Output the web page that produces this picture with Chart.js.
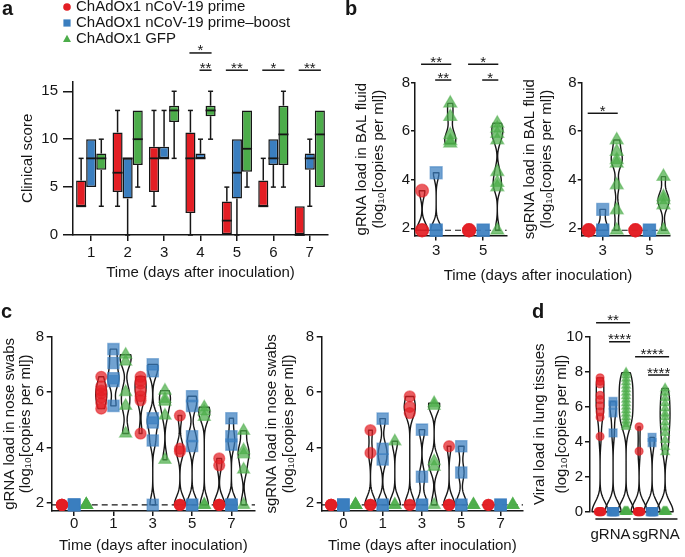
<!DOCTYPE html>
<html><head><meta charset="utf-8"><title>ChAdOx1 figure</title>
<script src="https://cdn.jsdelivr.net/npm/chart.js@4/dist/chart.umd.min.js"></script>
<style>
html,body{margin:0;padding:0;background:#fff}
#fig{position:relative;width:685px;height:557px;overflow:hidden;background:#fff}
#fig canvas{position:absolute;left:0;top:0}
</style></head><body>
<div id="fig">
<canvas id="chA" width="685" height="557"></canvas>
<canvas id="chB1" width="685" height="557"></canvas>
<canvas id="chB2" width="685" height="557"></canvas>
<canvas id="chC1" width="685" height="557"></canvas>
<canvas id="chC2" width="685" height="557"></canvas>
<canvas id="chD" width="685" height="557"></canvas>
</div>
<script>
// ================= DATA =================
const LOD = 1.92;
const SERIES_NAMES = ['ChAdOx1 nCoV-19 prime', 'ChAdOx1 nCoV-19 prime\u2013boost', 'ChAdOx1 GFP'];

// Panel a: clinical score box plots, each entry [min, q1, median, q3, max]
const aDays = ['1', '2', '3', '4', '5', '6', '7'];
const aYTicks = [0, 5, 10, 15];
const aPrimeBox = [[3,3,3,5.7,8],[3,4.5,6.5,10.7,13],[3,4.5,8,9.2,13],[0,2.3,8,10.7,13],[0,0,1.5,3.5,5],[3,3,3,5.7,8],[0,0,0,3,3]];
const aBoostBox = [[5,5,8,10,10],[0,3.8,8,8,8],[8,8,8,9.2,13],[8,8,8,8.5,10],[0,3.8,6.5,10,10],[5,7.3,8,10,10],[3,6.8,8,8.5,10]];
const aGfpBox = [[3,6.8,8,8.5,10],[5,7.3,10,13,13],[8,11.8,13,13.5,15],[10,12.4,13,13.5,15],[5,6.6,9,13,13],[5,7.3,10.5,13.5,15],[5,5,10.5,13,13]];
const aSig = [
  {cat:3, from:0, to:2, y:19.0, label:'*'},
  {cat:3, from:1, to:2, y:17.2, label:'**'},
  {cat:4, from:0, to:2, y:17.2, label:'**'},
  {cat:5, from:0, to:2, y:17.2, label:'*'},
  {cat:6, from:0, to:2, y:17.2, label:'**'}
];

// Panel b: BAL fluid (log10 copies per ml)
const bDays = ['3', '5'];
const logTicks = [2, 4, 6, 8];
const bGrnaPrime = [[3.55, LOD, LOD], [LOD, LOD, LOD]];
const bGrnaBoost = [[4.29, LOD, LOD], [LOD, LOD]];
const bGrnaGfp   = [[7.15, 6.6, 5.85, 5.6, 5.5], [6.33, 6.12, 5.9, 5.64, 4.33, 3.88, 3.7, LOD]];
const bSgPrime   = [[LOD, LOD, LOD], [LOD, LOD, LOD]];
const bSgBoost   = [[2.78, LOD, LOD], [LOD, LOD]];
const bSgGfp     = [[5.64, 5.16, 4.82, 4.68, 3.78, 2.75, LOD], [4.13, 3.3, 3.17, 2.96, LOD]];
const bGrnaSig = [
  {cat:0, from:0, to:2, y:8.76, label:'**'},
  {cat:0, from:1, to:2, y:8.11, label:'**'},
  {cat:1, from:0, to:2, y:8.76, label:'*'},
  {cat:1, from:1, to:2, y:8.11, label:'*'}
];
const bSgSig = [{cat:0, from:0, to:2, y:6.74, label:'*'}];

// Panel c: nose swabs
const cDays = ['0', '1', '3', '5', '7'];
const cGrnaPrime = [[LOD,LOD,LOD,LOD,LOD,LOD], [6.55,6.2,6.05,5.95,5.8,5.6,5.4], [6.55,6.4,6.3,6.05,5.85,5.7,4.5], [5.15,3.95,3.85,LOD,LOD,LOD], [3.6,3.35,LOD,LOD,LOD,LOD]];
const cGrnaBoost = [[LOD,LOD,LOD,LOD,LOD,LOD], [7.55,7.05,6.5,6.4,5.5], [7.0,6.75,5.05,4.9,4.25,LOD], [5.85,5.5,4.4,4.05,LOD,LOD], [5.05,4.4,4.1,LOD,LOD,LOD]];
const cGrnaGfp   = [[LOD,LOD,LOD,LOD,LOD,LOD], [7.35,7.1,6.0,5.5,4.5], [6.05,5.75,5.65,5.15,3.55], [5.45,5.3,5.1,LOD,LOD], [4.6,3.9,3.75,3.2,LOD]];
const cSgPrime   = [[LOD,LOD,LOD,LOD,LOD], [4.62,3.8,LOD,LOD,LOD], [5.84,5.46,5.24,LOD,LOD], [4.04,LOD,LOD,LOD], [LOD,LOD,LOD]];
const cSgBoost   = [[LOD,LOD,LOD,LOD,LOD], [5.04,3.95,3.56,LOD,LOD], [4.64,2.94,LOD,LOD], [4.04,3.09,LOD,LOD], [LOD,LOD,LOD]];
const cSgGfp     = [[LOD,LOD,LOD,LOD,LOD], [4.22,LOD,LOD], [5.6,5.5,3.5,3.3,LOD], [LOD,LOD,LOD], [LOD,LOD,LOD]];

// Panel d: lung tissues (gRNA block, sgRNA block)
const dGroups = ['gRNA', 'sgRNA'];
const dYTicks = [0, 2, 4, 6, 8, 10];
const dPrime = [[7.65,7.45,7.3,6.65,6.4,6.05,5.7,5.4,4.3,0,0,0,0,0,0,0,0], [4.85,3.45,0,0,0,0,0,0,0,0]];
const dBoost = [[6.3,6.1,5.65,4.5,0,0,0,0,0,0,0], [4.25,3.95,0,0,0,0,0,0,0]];
const dGfp   = [[7.95,7.8,7.6,7.4,7.2,7.0,6.8,6.6,6.4,6.2,6.0,5.8,5.6,5.4,5.2,5.0,4.85,0,0,0,0,0,0,0,0], [7.05,6.8,6.5,6.2,5.9,5.6,5.4,5.1,4.8,4.5,4.1,3.7,3.4,0,0,0,0,0,0,0,0]];
const dSig = [
  {cat:0, from:0, to:2, y:10.8, label:'**'},
  {cat:0, from:1, to:2, y:9.71, label:'****'},
  {cat:1, from:0, to:2, y:8.86, label:'****'},
  {cat:1, from:1, to:2, y:7.81, label:'****'}
];

// ================= STYLE =================
const FAMILY = "'Liberation Sans', Arial, Helvetica, sans-serif";
const INK = '#161616';
const SERIES_COLORS = ['#e31e24', '#3a7ebf', '#4cad4a'];
const SERIES_STYLES = ['circle', 'rect', 'triangle'];
const LOG_TITLE2 = '(log\u2081\u2080[copies per ml])';
const W = 685, H = 557;

Chart.defaults.font.family = FAMILY;
Chart.defaults.color = INK;
Chart.defaults.animation = false;

function rgba(hex, a) {
  const n = parseInt(hex.slice(1), 16);
  return `rgba(${n >> 16},${(n >> 8) & 255},${n & 255},${a})`;
}
function text(ctx, s, x, y, o = {}) {
  ctx.save();
  ctx.font = `${o.weight || 'normal'} ${o.size || 15}px ${FAMILY}`;
  ctx.fillStyle = INK;
  ctx.textAlign = o.align || 'center';
  ctx.textBaseline = o.baseline || 'alphabetic';
  ctx.fillText(s, x, y);
  ctx.restore();
}
function seg(ctx, x1, y1, x2, y2) {
  ctx.beginPath(); ctx.moveTo(x1, y1); ctx.lineTo(x2, y2); ctx.stroke();
}
function sigBars(ctx, list, xPix, yScale, ext) {
  ctx.save(); ctx.strokeStyle = INK; ctx.lineWidth = 1.5;
  list.forEach(s => {
    const x1 = xPix(s.cat, s.from) - ext, x2 = xPix(s.cat, s.to) + ext, y = yScale.getPixelForValue(s.y);
    seg(ctx, x1, y, x2, y);
    text(ctx, s.label, (x1 + x2) / 2, y + 2.5);
  });
  ctx.restore();
}
function marker(ctx, style, x, y, r, color) {
  ctx.save(); ctx.fillStyle = color; ctx.beginPath();
  if (style === 'circle') ctx.arc(x, y, r, 0, Math.PI * 2);
  else if (style === 'rect') ctx.rect(x - r, y - r, 2 * r, 2 * r);
  else { ctx.moveTo(x, y - r * 1.15); ctx.lineTo(x + r * 1.1, y + r * 0.85); ctx.lineTo(x - r * 1.1, y + r * 0.85); ctx.closePath(); }
  ctx.fill(); ctx.restore();
}
function drawViolin(ctx, xp, yScale, vals, bw, halfW) {
  const lo = Math.min(...vals), hi = Math.max(...vals);
  if (hi - lo < 1e-6) return;
  const N = 90, ys = [], ds = [];
  for (let i = 0; i <= N; i++) {
    const y = lo + (hi - lo) * i / N; let d = 0;
    for (const v of vals) d += Math.exp(-0.5 * ((y - v) / bw) ** 2);
    ys.push(y); ds.push(d);
  }
  const m = Math.max(...ds);
  ctx.beginPath();
  for (let i = 0; i <= N; i++) {
    const px = xp - halfW * ds[i] / m, py = yScale.getPixelForValue(ys[i]);
    i ? ctx.lineTo(px, py) : ctx.moveTo(px, py);
  }
  for (let i = N; i >= 0; i--) ctx.lineTo(xp + halfW * ds[i] / m, yScale.getPixelForValue(ys[i]));
  ctx.closePath(); ctx.stroke();
}

function yAxis(o) {
  return {
    type: 'linear', min: o.min, max: o.max,
    afterBuildTicks: s => { s.ticks = o.ticks.map(v => ({value: v})); },
    afterFit: s => { s.width = o.width; },
    grid: {display: true, drawOnChartArea: false, drawTicks: true, tickLength: o.tl, color: INK, lineWidth: 1.5},
    border: {display: true, color: INK, width: 1.5},
    ticks: {font: {family: FAMILY, size: 15, lineHeight: 1}, color: INK, padding: o.pad},
    title: {display: true, text: o.title, color: INK, font: {family: FAMILY, size: 15, lineHeight: o.lh}, padding: {top: o.tp, bottom: 0}}
  };
}
function xAxisLinear(o) {
  return {
    type: 'linear', min: o.min, max: o.max,
    afterBuildTicks: s => { s.ticks = o.positions.map(v => ({value: v})); },
    afterFit: s => { s.height = o.height; },
    grid: {display: o.grid !== false, drawOnChartArea: false, drawTicks: true, tickLength: o.tl, color: INK, lineWidth: 1.5},
    border: {display: o.border !== false, color: INK, width: 1.5},
    ticks: {font: {family: FAMILY, size: 15, lineHeight: 1}, color: INK, padding: o.pad, autoSkip: false, maxRotation: 0,
            callback: (v, i) => o.labels[i]},
    title: o.title ? {display: true, text: o.title, color: INK, font: {family: FAMILY, size: 15, lineHeight: 1.2}, padding: {top: 0, bottom: o.titlePad}} : {display: false}
  };
}
function placePoints(vals, x0, spread) {
  const counts = {}, seen = {};
  vals.forEach(v => { counts[v] = (counts[v] || 0) + 1; });
  return vals.map(v => {
    const n = counts[v], k = seen[v] || 0; seen[v] = k + 1;
    const dx = spread && n > 1 ? (k / (n - 1) - 0.5) * spread : 0;
    return {x: x0 + dx, y: v};
  });
}
function pointSets(groups, xOf, radii, spread) {
  return groups.map((cats, g) => ({
    data: cats.flatMap((vals, c) => placePoints(vals, xOf(c, g), spread)),
    pointStyle: SERIES_STYLES[g], pointRadius: radii[g],
    backgroundColor: rgba(SERIES_COLORS[g], 0.72), borderColor: rgba(SERIES_COLORS[g], 0.5), borderWidth: 1.3,
    clip: false
  }));
}
function scatterChart(id, o) {
  const xOf = o.xOf;
  return new Chart(document.getElementById(id), {
    type: 'scatter',
    data: {datasets: pointSets(o.groups, xOf, o.radii, o.spread)},
    options: {
      responsive: false, devicePixelRatio: 1, animation: false,
      layout: {padding: o.padding},
      plugins: {legend: {display: false}, tooltip: {enabled: false}},
      scales: {x: o.x, y: o.y}
    },
    plugins: [{
      id: 'extras-' + id,
      beforeDatasetsDraw(chart) {
        const ctx = chart.ctx, ys = chart.scales.y, xs = chart.scales.x, ca = chart.chartArea;
        ctx.save(); ctx.strokeStyle = INK;
        if (o.lod) {
          ctx.lineWidth = 1.2; ctx.setLineDash([6, 4]);
          const y = ys.getPixelForValue(LOD); seg(ctx, ca.left, y, ca.right, y);
          ctx.setLineDash([]);
        }
        ctx.lineWidth = 1.4; ctx.lineJoin = 'round';
        o.groups.forEach((cats, g) => cats.forEach((vals, c) => drawViolin(ctx, xs.getPixelForValue(xOf(c, g)), ys, vals, o.bw, o.halfW)));
        ctx.restore();
      },
      afterDraw(chart) {
        const ctx = chart.ctx, xs = chart.scales.x, ys = chart.scales.y;
        if (o.sig) sigBars(ctx, o.sig, (c, g) => xs.getPixelForValue(xOf(c, g)), ys, o.sigExt);
        if (o.after) o.after(chart);
      }
    }]
  });
}

// ================= PANEL A =================
const aBoxSets = [aPrimeBox, aBoostBox, aGfpBox];
new Chart(document.getElementById('chA'), {
  type: 'bar',
  data: {
    labels: aDays,
    datasets: aBoxSets.map((set, g) => ({
      data: set.map(b => [b[1], b[3]]),
      backgroundColor: SERIES_COLORS[g], borderColor: INK, borderWidth: 1.5, borderSkipped: false,
      barPercentage: 1, categoryPercentage: 0.83
    }))
  },
  options: {
    responsive: false, devicePixelRatio: 1, animation: false,
    layout: {padding: {left: 0, top: 81.7, right: W - 328, bottom: H - 235 - 50}},
    plugins: {legend: {display: false}, tooltip: {enabled: false}},
    scales: {
      x: {
        afterFit: s => { s.height = 50; },
        grid: {display: true, offset: false, drawOnChartArea: false, drawTicks: true, tickLength: 6, color: INK, lineWidth: 1.5},
        border: {display: true, color: INK, width: 1.5},
        ticks: {font: {family: FAMILY, size: 15, lineHeight: 1}, color: INK, padding: 4.8},
        title: {display: true, text: 'Time (days after inoculation)', color: INK, font: {family: FAMILY, size: 15, lineHeight: 1.2}, padding: {top: 0, bottom: 2.7}}
      },
      y: yAxis({min: 0, max: 16, ticks: aYTicks, width: 73, tl: 10, pad: 5, title: 'Clinical score', lh: 1.2, tp: 19})
    }
  },
  plugins: [{
    id: 'boxwhisk',
    afterDatasetsDraw(chart) {
      const ctx = chart.ctx, y = chart.scales.y;
      ctx.save(); ctx.strokeStyle = INK; ctx.lineWidth = 1.5;
      aBoxSets.forEach((set, di) => {
        const meta = chart.getDatasetMeta(di);
        set.forEach((b, i) => {
          const el = meta.data[i], x = el.x, hw = el.width / 2;
          const [mn, q1, md, q3, mx] = b;
          ctx.lineWidth = 1.8; seg(ctx, x - hw, y.getPixelForValue(md), x + hw, y.getPixelForValue(md));
          ctx.lineWidth = 1.5;
          if (mx > q3) { seg(ctx, x, y.getPixelForValue(q3), x, y.getPixelForValue(mx)); seg(ctx, x - 2.5, y.getPixelForValue(mx), x + 2.5, y.getPixelForValue(mx)); }
          if (mn < q1) { seg(ctx, x, y.getPixelForValue(q1), x, y.getPixelForValue(mn)); seg(ctx, x - 2.5, y.getPixelForValue(mn), x + 2.5, y.getPixelForValue(mn)); }
        });
      });
      ctx.restore();
    },
    afterDraw(chart) {
      const ctx = chart.ctx;
      sigBars(ctx, aSig, (c, g) => chart.getDatasetMeta(g).data[c].x, chart.scales.y, 1);
      const rowY = [7, 23, 39];
      SERIES_NAMES.forEach((name, i) => {
        marker(ctx, SERIES_STYLES[i], 67, rowY[i], i === 0 ? 3.8 : 3.6, SERIES_COLORS[i]);
        text(ctx, name, 76, rowY[i], {align: 'left', baseline: 'middle'});
      });
      text(ctx, 'a', 2, 15, {size: 20, weight: 'bold', align: 'left'});
    }
  }]
});

// ================= PANEL B =================
const bX = (c, g) => c + (g - 1) * 0.3;
const bYtitle = t => [t, LOG_TITLE2];
scatterChart('chB1', {
  groups: [bGrnaPrime, bGrnaBoost, bGrnaGfp], xOf: bX, radii: [6.5, 8.5, 7.5], bw: 0.3, halfW: 5.5, lod: true,
  sig: bGrnaSig, sigExt: 1,
  padding: {left: 345, top: 82.7, right: W - 506.7, bottom: H - 235.6 - 25},
  x: xAxisLinear({min: -0.45, max: 1.5, positions: [0, 1], labels: bDays, height: 25, tl: 5, pad: 2.9}),
  y: yAxis({min: 1.7, max: 8, ticks: logTicks, width: 70, tl: 4, pad: 1, title: bYtitle('gRNA load in BAL fluid'), lh: 1.1, tp: 8.75}),
  after: chart => text(chart.ctx, 'b', 345, 15, {size: 20, weight: 'bold', align: 'left'})
});
scatterChart('chB2', {
  groups: [bSgPrime, bSgBoost, bSgGfp], xOf: bX, radii: [6.5, 8.5, 7.5], bw: 0.3, halfW: 5.5, lod: true,
  sig: bSgSig, sigExt: 1,
  padding: {left: 515, top: 82.7, right: W - 670, bottom: H - 235.6 - 25},
  x: xAxisLinear({min: -0.45, max: 1.44, positions: [0, 1], labels: bDays, height: 25, tl: 5, pad: 2.9}),
  y: yAxis({min: 1.7, max: 8, ticks: logTicks, width: 66.7, tl: 4, pad: 1, title: bYtitle('sgRNA load in BAL fluid'), lh: 1.1, tp: 6.75}),
  after: chart => text(chart.ctx, 'Time (days after inoculation)', 538, 275.5, {baseline: 'middle'})
});

// ================= PANEL C =================
const cX = (c, g) => c + (g - 1) * 0.31;
scatterChart('chC1', {
  groups: [cGrnaPrime, cGrnaBoost, cGrnaGfp], xOf: cX, radii: [5.5, 8, 7], bw: 0.3, halfW: 5.5, lod: true,
  padding: {left: 0, top: 336.7, right: W - 255, bottom: 0},
  x: xAxisLinear({min: -0.57, max: 4.6, positions: [0, 1, 2, 3, 4], labels: cDays, height: 46, tl: 5, pad: 0.3, title: 'Time (days after inoculation)', titlePad: 2}),
  y: yAxis({min: 1.7, max: 8, ticks: logTicks, width: 51.7, tl: 5, pad: 2.7, title: bYtitle('gRNA load in nose swabs'), lh: 1.1, tp: 1.25}),
  after: chart => text(chart.ctx, 'c', 1, 318, {size: 20, weight: 'bold', align: 'left'})
});
scatterChart('chC2', {
  groups: [cSgPrime, cSgBoost, cSgGfp], xOf: cX, radii: [5.5, 8, 7], bw: 0.3, halfW: 5.5, lod: true,
  padding: {left: 255, top: 336.7, right: W - 523, bottom: 0},
  x: xAxisLinear({min: -0.55, max: 4.57, positions: [0, 1, 2, 3, 4], labels: cDays, height: 46, tl: 5, pad: 0.3, title: 'Time (days after inoculation)', titlePad: 2}),
  y: yAxis({min: 1.7, max: 8, ticks: logTicks, width: 66.7, tl: 5, pad: 2.7, title: bYtitle('sgRNA load in nose swabs'), lh: 1.1, tp: 8.75})
});

// ================= PANEL D =================
const dX = (c, g) => c * 3 + g;
const dUnder = [[-0.36, 2.36], [2.55, 5.95]];
const dLabelPos = [0.8, 4.3];
scatterChart('chD', {
  groups: [dPrime, dBoost, dGfp], xOf: dX, radii: [4, 5.6, 5], bw: 0.55, halfW: 8, lod: false, spread: 0.3,
  sig: dSig, sigExt: 4,
  padding: {left: 525, top: 336.7, right: 1, bottom: H - 511.7 - 40},
  x: xAxisLinear({min: -0.775, max: 6.0, positions: dLabelPos, labels: dGroups, height: 40, tl: 15.3, pad: 0, grid: false, border: false}),
  y: yAxis({min: 0, max: 10, ticks: dYTicks, width: 65, tl: 5, pad: 2, title: ['Viral load in lung tissues', LOG_TITLE2], lh: 1.43, tp: 4.3}),
  after: chart => {
    const ctx = chart.ctx, xs = chart.scales.x;
    ctx.save(); ctx.strokeStyle = INK; ctx.lineWidth = 1.5;
    dUnder.forEach(u => seg(ctx, xs.getPixelForValue(u[0]), 519, xs.getPixelForValue(u[1]), 519));
    ctx.restore();
    text(ctx, 'd', 532, 318, {size: 20, weight: 'bold', align: 'left'});
  }
});
</script>
</body></html>
